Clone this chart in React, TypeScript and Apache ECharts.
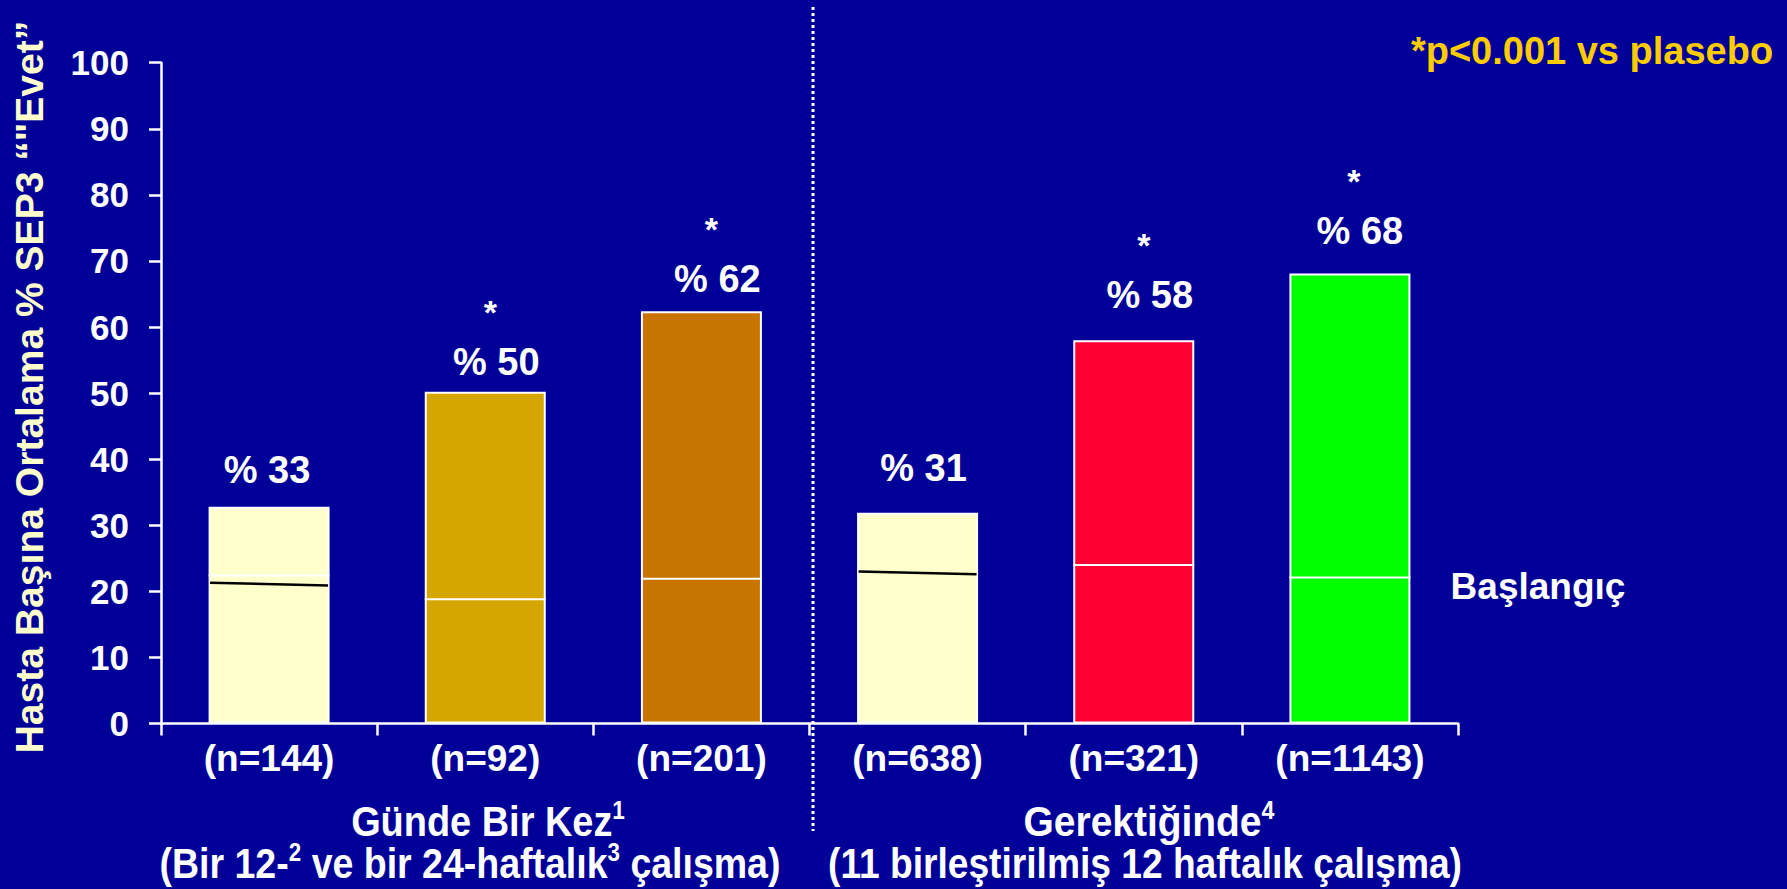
import React, { useEffect, useRef } from "react";
import * as echarts from "echarts";

// ---- data ----
const categories = ["(n=144)", "(n=92)", "(n=201)", "(n=638)", "(n=321)", "(n=1143)"];
const responseValues = [32.8, 50.2, 62.4, 31.9, 58.0, 68.1];
const responseLabels = ["% 33", "% 50", "% 62", "% 31", "% 58", "% 68"];
const significant = [false, true, true, false, true, true];
const baselineDivider: (number | null)[] = [22.4, 18.8, 21.9, null, 24.0, 22.1];
const baselineMarkStart: (number | null)[] = [21.3, null, null, 23.0, null, null];
const baselineMarkEnd: (number | null)[] = [20.9, null, null, 22.6, null, null];
const yMin = 0;
const yMax = 100;
const yStep = 10;
// "^n" marks a superscript reference number
const groupTitles = ["Günde Bir Kez^1", "Gerektiğinde^4"];
const groupSubtitles = ["(Bir 12-^2 ve bir 24-haftalık^3 çalışma)", "(11 birleştirilmiş 12 haftalık çalışma)"];
const yAxisTitle = "Hasta Başına Ortalama % SEP3 “\"Evet”";
const footnote = "*p<0.001 vs plasebo";
const baselineText = "Başlangıç";

// ---- styles ----
const barColors = ["#FFFFCC", "#D6A600", "#C87400", "#FFFFCC", "#FF0033", "#00FF00"];
const labelShiftX = [-2, 11, 16, 6, 16, 10];
const labelGap = [36.7, 29.5, 32, 44.5, 45, 42.7];
const BG = "#000099";
const FONT = '"Liberation Sans", Arial, Helvetica, sans-serif';
const BAR_W = 121;
const GROUP_SIZE = 42;
const SUP_SIZE = 25;

function measure(text: string, font: string): number {
  const c = document.createElement("canvas");
  const ctx = c.getContext("2d");
  if (!ctx) return 1;
  ctx.font = font;
  return ctx.measureText(text).width || 1;
}

function richParts(s: string): { text: string; sup: boolean }[] {
  const out: { text: string; sup: boolean }[] = [];
  const re = /\^(\d)/g;
  let last = 0;
  let m: RegExpExecArray | null;
  while ((m = re.exec(s))) {
    if (m.index > last) out.push({ text: s.slice(last, m.index), sup: false });
    out.push({ text: m[1], sup: true });
    last = m.index + m[0].length;
  }
  if (last < s.length) out.push({ text: s.slice(last), sup: false });
  return out;
}

function groupText(s: string, x: number, y: number, target: number) {
  const parts = richParts(s);
  const mainFont = `bold ${GROUP_SIZE}px ${FONT}`;
  const supFont = `bold ${SUP_SIZE}px ${FONT}`;
  const w = parts.reduce((acc, p) => acc + measure(p.text, p.sup ? supFont : mainFont), 0);
  const text = parts.map((p) => `{${p.sup ? "u" : "m"}|${p.text}}`).join("");
  return {
    type: "text",
    x,
    y,
    scaleX: target / w,
    style: {
      text,
      fill: "#FFFFFF",
      font: mainFont,
      textAlign: "center",
      textVerticalAlign: "middle",
      rich: {
        m: { fontSize: GROUP_SIZE, fontWeight: "bold", fontFamily: FONT, fill: "#FFFFFF", color: "#FFFFFF", lineHeight: 46 },
        u: {
          fontSize: SUP_SIZE,
          fontWeight: "bold",
          fontFamily: FONT,
          fill: "#FFFFFF",
          color: "#FFFFFF",
          lineHeight: 35,
          verticalAlign: "top",
        },
      },
    },
  };
}

export default function App() {
  const ref = useRef<HTMLDivElement>(null);
  useEffect(() => {
    document.body.style.margin = "0";
    document.body.style.background = BG;
    if (!ref.current) return;
    const chart = echarts.init(ref.current, undefined, { renderer: "svg" });

    const barData = responseValues.map((v, i) => ({
      value: v,
      itemStyle: { color: barColors[i] },
      label: {
        offset: [labelShiftX[i], -(labelGap[i] - 22)],
        formatter: significant[i] ? `{s|*}\n{v|${responseLabels[i]}}` : `{v|${responseLabels[i]}}`,
      },
    }));

    const dividerData = baselineDivider
      .map((v, i) => (v == null ? null : [i, v, v]))
      .filter((d) => d != null);
    const markData = baselineMarkStart
      .map((v, i) => (v == null ? null : [i, v, baselineMarkEnd[i] as number]))
      .filter((d) => d != null);

    const lineRenderer = (color: string, width: number, inset: number) => (params: any, api: any) => {
      const a = api.coord([api.value(0), api.value(1)]);
      const b = api.coord([api.value(0), api.value(2)]);
      const half = BAR_W / 2 - inset;
      return {
        type: "line",
        shape: { x1: a[0] - half, y1: a[1], x2: a[0] + half, y2: b[1] },
        style: { stroke: color, lineWidth: width },
      };
    };

    const titleFont = `bold 39px ${FONT}`;

    const option: any = {
      animation: false,
      backgroundColor: BG,
      grid: { left: 161, right: 329, top: 62.7, bottom: 165.5, containLabel: false },
      xAxis: {
        type: "category",
        data: categories,
        axisLine: { show: true, lineStyle: { color: "#fff", width: 2.5 } },
        axisTick: { show: true, length: 12, lineStyle: { color: "#fff", width: 2.5 } },
        axisLabel: { color: "#fff", fontSize: 37, fontWeight: "bold", fontFamily: FONT, margin: 16 },
        splitLine: { show: false },
      },
      yAxis: {
        type: "value",
        min: yMin,
        max: yMax,
        interval: yStep,
        axisLine: { show: true, lineStyle: { color: "#fff", width: 2.5 } },
        axisTick: { show: true, length: 12, lineStyle: { color: "#fff", width: 2.5 } },
        axisLabel: { color: "#fff", fontSize: 35, fontWeight: "bold", fontFamily: FONT, margin: 32 },
        splitLine: { show: false },
      },
      series: [
        {
          type: "bar",
          data: barData,
          barWidth: BAR_W,
          itemStyle: { borderColor: "#fff", borderWidth: 2 },
          label: {
            show: true,
            position: "top",
            distance: 0,
            color: "#fff",
            fontFamily: FONT,
            rich: {
              v: { fontSize: 38, fontWeight: "bold", color: "#fff", lineHeight: 44, fontFamily: FONT },
              s: { fontSize: 34, fontWeight: "bold", color: "#fff", lineHeight: 56, fontFamily: FONT, padding: [0, 12, 0, 0] },
            },
          },
        },
        {
          type: "custom",
          data: dividerData,
          encode: { x: 0, y: [1, 2] },
          renderItem: lineRenderer("#FFFFFF", 2, 0),
          z: 5,
        },
        {
          type: "custom",
          data: markData,
          encode: { x: 0, y: [1, 2] },
          renderItem: lineRenderer("#000000", 2.5, 1.5),
          z: 6,
        },
      ],
      graphic: [
        {
          type: "text",
          x: 30,
          y: 387,
          rotation: Math.PI / 2,
          scaleX: 733 / measure(yAxisTitle, titleFont),
          style: { text: yAxisTitle, fill: "#FFFFCC", font: titleFont, textAlign: "center", textVerticalAlign: "middle" },
        },
        {
          type: "line",
          shape: { x1: 813, y1: 7, x2: 813, y2: 831 },
          style: { stroke: "#FFFFFF", lineWidth: 3, lineDash: [3, 3] },
        },
        {
          type: "text",
          x: 1592,
          y: 51,
          style: { text: footnote, fill: "#FFCC00", font: `bold 38px ${FONT}`, textAlign: "center", textVerticalAlign: "middle" },
        },
        {
          type: "text",
          x: 1538,
          y: 586,
          style: { text: baselineText, fill: "#FFFFFF", font: `bold 37px ${FONT}`, textAlign: "center", textVerticalAlign: "middle" },
        },
        groupText(groupTitles[0], 488, 821, 274),
        groupText(groupSubtitles[0], 470, 863, 621),
        groupText(groupTitles[1], 1149, 821, 251),
        groupText(groupSubtitles[1], 1145, 863, 634),
      ],
    };
    chart.setOption(option);
    return () => chart.dispose();
  }, []);
  return <div ref={ref} style={{ width: 1787, height: 889 }} />;
}
